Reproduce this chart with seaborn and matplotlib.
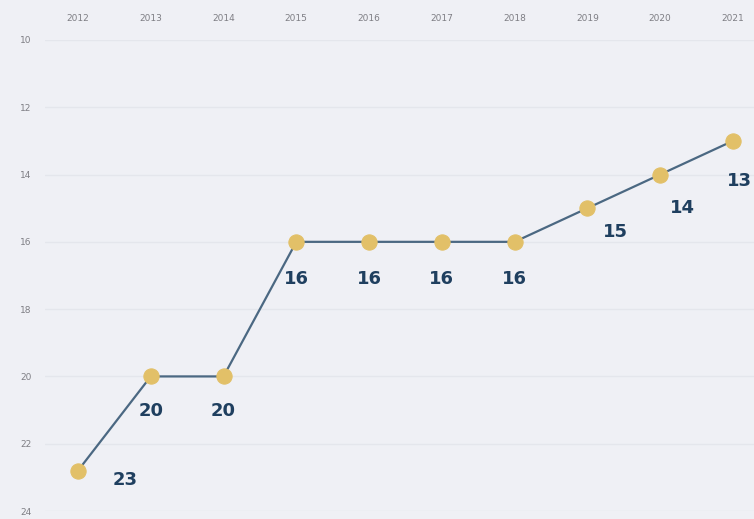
import pandas as pd
import numpy as np
import seaborn as sns
import matplotlib.pyplot as plt

years = [2012, 2013, 2014, 2015, 2016, 2017, 2018, 2019, 2020, 2021]
ranks = [22.8, 20, 20, 16, 16, 16, 16, 15, 14, 13]
labels = ['23', '20', '20', '16', '16', '16', '16', '15', '14', '13']
# label offsets in points (dx, dy)
offsets = [(34, -7), (0, -25), (0, -25), (0, -27), (0, -27), (0, -27), (0, -27), (20, -17), (16, -24), (5, -29)]

data = pd.DataFrame({'year': years, 'rank': ranks})

sns.set_theme(style='white')
fig = plt.figure(figsize=(7.54, 5.19), dpi=100)
fig.patch.set_facecolor('#eff0f5')
ax = fig.add_axes([0.06, 0.0154, 0.94, 0.9076])
ax.set_facecolor('#eff0f5')

sns.lineplot(data=data, x='year', y='rank', ax=ax, color='#4b6882', linewidth=1.6,
             marker='o', markersize=11, markerfacecolor='#e2c068', markeredgecolor='#e2c068',
             clip_on=False, zorder=3)

for x, y, t, off in zip(years, ranks, labels, offsets):
    ax.annotate(t, (x, y), xytext=off, textcoords='offset points', ha='center', va='center',
                fontsize=13, fontweight='bold', color='#1f3f5f')

ax.set_xlim(2011.55, 2021.29)
ax.set_ylim(24, 10)
ax.set_yticks(range(10, 25, 2))
ax.set_xticks(years)
ax.xaxis.tick_top()
ax.tick_params(axis='both', length=0, labelsize=6.5, labelcolor='#7e7e84', pad=10)
ax.tick_params(axis='x', pad=12)
ax.yaxis.grid(True, color='#e4e6ec', linewidth=1)
for s in ax.spines.values():
    s.set_visible(False)
ax.set_xlabel('')
ax.set_ylabel('')

fig.savefig('out.png', dpi=100, facecolor=fig.get_facecolor())
